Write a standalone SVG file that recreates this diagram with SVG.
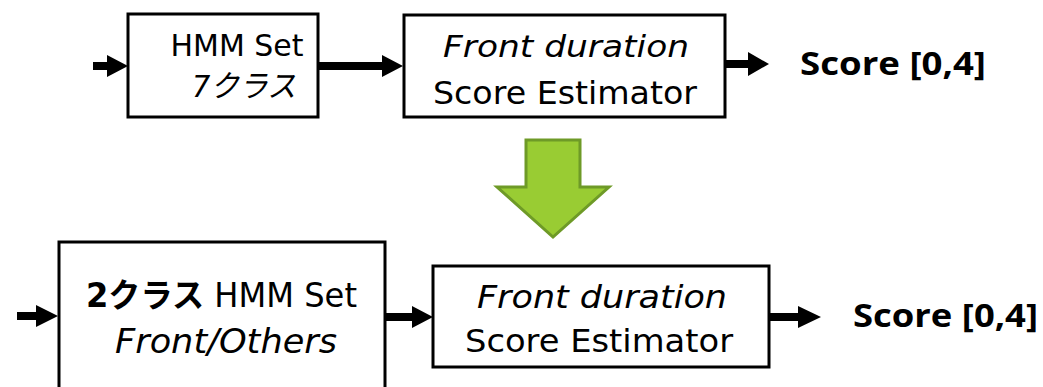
<svg xmlns="http://www.w3.org/2000/svg" width="1043" height="387" viewBox="0 0 1043 387">
<style>
.box{fill:#fff;stroke:#000;stroke-width:3}
.t{font-family:"DejaVu Sans","Noto Sans CJK JP",sans-serif;fill:#000;text-anchor:middle}
.i{font-style:italic}
.score{font-family:"Open Sans","Liberation Sans",sans-serif;font-weight:bold;font-size:33px;fill:#000}
.arr{fill:#000}
</style>
<rect width="1043" height="387" fill="#fff"/>
<g id="connectors">
<polygon class="arr" points="93,62 107,62 107,55 128,66 107,77 107,70 93,70"/>
<polygon class="arr" points="318,62 382,62 382,55 403,66 382,77 382,70 318,70"/>
<polygon class="arr" points="726,60 748,60 748,52 769,64 748,76 748,68 726,68"/>
<polygon class="arr" points="17,312 36,312 36,305 58,316 36,327 36,320 17,320"/>
<polygon class="arr" points="385,313 412,313 412,306 433,317 412,328 412,321 385,321"/>
<polygon class="arr" points="770,313 798,313 798,306 821,317 798,328 798,321 770,321"/>
</g>
<g id="node-hmm7">
<rect class="box" x="128" y="14" width="190" height="103"/>
<text class="t" x="237" y="56" font-size="30.5" textLength="133" lengthAdjust="spacingAndGlyphs">HMM Set</text>
<text class="t i" x="244" y="97" font-size="31" textLength="104" lengthAdjust="spacingAndGlyphs">7クラス</text>
</g>
<g id="node-est1">
<rect class="box" x="404" y="15" width="321" height="102"/>
<text class="t i" x="566" y="57" font-size="31" textLength="246" lengthAdjust="spacingAndGlyphs">Front duration</text>
<text class="t" x="565" y="104" font-size="32" textLength="264" lengthAdjust="spacingAndGlyphs">Score Estimator</text>
</g>
<text id="score1" class="score" x="800" y="75" textLength="186" lengthAdjust="spacingAndGlyphs">Score [0,4]</text>
<g id="big-arrow">
<polygon points="526,140 580,140 580,187 609,187 553,237 497,187 526,187" fill="#99CC33" stroke="#6E9A27" stroke-width="3"/>
</g>
<g id="node-hmm2">
<rect class="box" x="59" y="242" width="326" height="170"/>
<text class="t" x="221.5" y="307" font-size="33" textLength="271" lengthAdjust="spacingAndGlyphs"><tspan font-weight="bold">2クラス</tspan> HMM Set</text>
<text class="t i" x="226" y="353" font-size="33" textLength="222" lengthAdjust="spacingAndGlyphs">Front/Others</text>
</g>
<g id="node-est2">
<rect class="box" x="433" y="266" width="336" height="101"/>
<text class="t i" x="602" y="308" font-size="32" textLength="250" lengthAdjust="spacingAndGlyphs">Front duration</text>
<text class="t" x="599" y="352" font-size="32" textLength="268" lengthAdjust="spacingAndGlyphs">Score Estimator</text>
</g>
<text id="score2" class="score" x="853" y="327" textLength="185" lengthAdjust="spacingAndGlyphs">Score [0,4]</text>
</svg>
